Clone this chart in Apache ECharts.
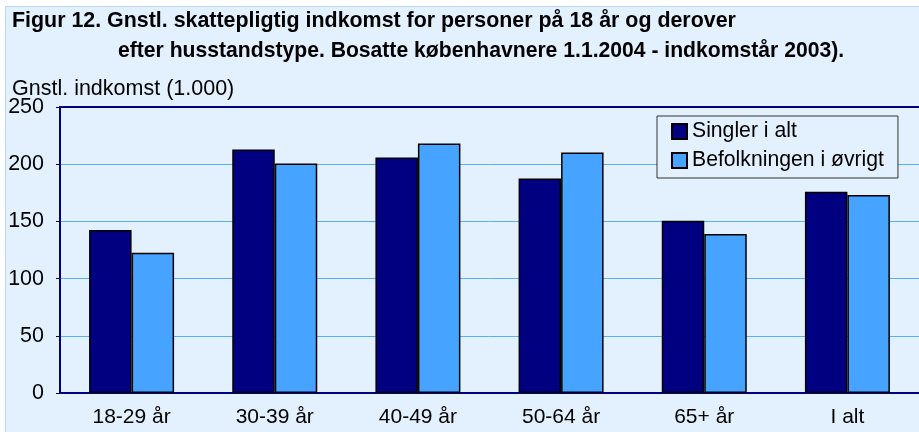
<!DOCTYPE html>
<html>
<head>
<meta charset="utf-8">
<script src="https://cdn.jsdelivr.net/npm/echarts@6/dist/echarts.min.js"></script>
<style>
html,body{margin:0;padding:0;background:#fff;}
#c{width:919px;height:432px;}
</style>
</head>
<body>
<div id="c"></div>
<script>
const categories = ['18-29 år', '30-39 år', '40-49 år', '50-64 år', '65+ år', 'I alt'];
const singler = [142.5, 212.8, 205.8, 187.5, 150.6, 175.9];
const befolkningen = [122.7, 200.6, 218, 210.2, 139, 173];
const seriesNames = ['Singler i alt', 'Befolkningen i øvrigt'];
const yTicks = { min: 0, max: 250, interval: 50 };

const FONT = '"Liberation Sans", Arial, sans-serif';
const chart = echarts.init(document.getElementById('c'), null, { renderer: 'canvas' });

chart.setOption({
  animation: false,
  backgroundColor: '#ffffff',
  textStyle: { fontFamily: FONT },
  graphic: [{
    type: 'rect', z: -10, silent: true,
    shape: { x: 5.5, y: 6.5, width: 930, height: 440 },
    style: { fill: '#E3F0FD', stroke: '#B9D9F7', lineWidth: 1 }
  }],
  title: [
    { text: 'Figur 12. Gnstl. skattepligtig indkomst for personer på 18 år og derover',
      left: 12, top: 9, padding: 0,
      textStyle: { fontFamily: FONT, fontSize: 21.4, fontWeight: 'bold', color: '#000', lineHeight: 24 } },
    { text: 'efter husstandstype. Bosatte københavnere 1.1.2004 - indkomstår 2003).',
      left: 118, top: 39, padding: 0,
      textStyle: { fontFamily: FONT, fontSize: 21.15, fontWeight: 'bold', color: '#000', lineHeight: 24 } },
    { text: 'Gnstl. indkomst (1.000)',
      left: 12, top: 77, padding: 0,
      textStyle: { fontFamily: FONT, fontSize: 21.5, fontWeight: 'normal', color: '#000', lineHeight: 24 } }
  ],
  legend: {
    data: seriesNames,
    orient: 'vertical',
    left: 657, top: 116,
    padding: [5, 14, 7, 14],
    itemWidth: 15, itemHeight: 15, itemGap: 8,
    icon: 'rect',
    backgroundColor: '#E3F0FD',
    borderColor: '#333',
    borderWidth: 1,
    textStyle: { fontFamily: FONT, fontSize: 21.2, color: '#000', lineHeight: 21 }
  },
  grid: { left: 60, right: -11, top: 107, bottom: 39, containLabel: false },
  xAxis: [{
    type: 'category',
    data: categories,
    position: 'bottom',
    axisLine: { lineStyle: { color: '#000080', width: 2 } },
    axisTick: { show: false },
    axisLabel: { fontFamily: FONT, fontSize: 21, color: '#000', margin: 14 },
    splitLine: { show: false }
  }, {
    type: 'category',
    data: categories,
    position: 'top',
    axisLine: { lineStyle: { color: '#000080', width: 2 } },
    axisTick: { show: false },
    axisLabel: { show: false },
    splitLine: { show: false }
  }],
  yAxis: {
    type: 'value',
    min: yTicks.min, max: yTicks.max, interval: yTicks.interval,
    axisLine: { show: true, lineStyle: { color: '#000080', width: 2 } },
    axisTick: { show: true, length: 4, lineStyle: { color: '#000040', width: 1 } },
    axisLabel: { fontFamily: FONT, fontSize: 21.5, color: '#000', margin: 16 },
    splitLine: { show: true, lineStyle: { color: '#5AAEF5', width: 1 } }
  },
  series: [{
    name: seriesNames[0],
    type: 'bar',
    data: singler,
    barWidth: 42.5,
    barGap: '0%',
    itemStyle: { color: '#000080', borderColor: '#000', borderWidth: 1.5 }
  }, {
    name: seriesNames[1],
    type: 'bar',
    data: befolkningen,
    barWidth: 42.5,
    barGap: '0%',
    itemStyle: { color: '#46A3FF', borderColor: '#000', borderWidth: 1.5 }
  }]
});
</script>
</body>
</html>
